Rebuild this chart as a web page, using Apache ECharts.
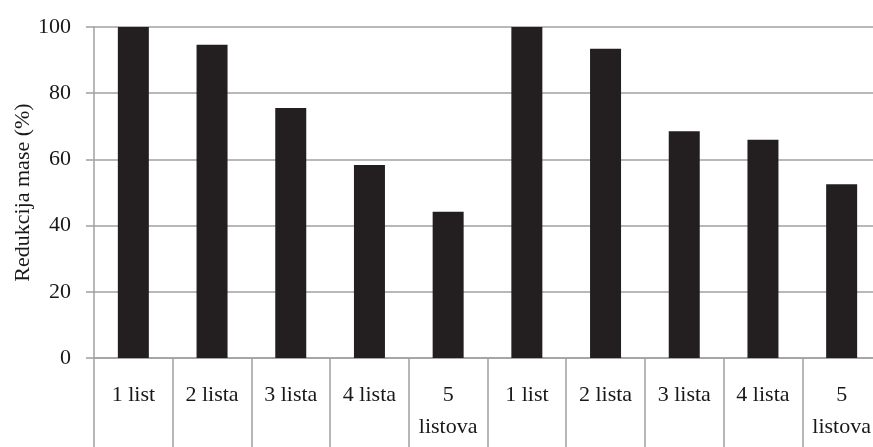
<!DOCTYPE html>
<html>
<head>
<meta charset="utf-8">
<script src="https://cdn.jsdelivr.net/npm/echarts@6/dist/echarts.min.js"></script>
<style>
html,body{margin:0;padding:0;background:#fff;}
#chart{width:873px;height:447px;}
</style>
</head>
<body>
<div id="chart"></div>
<script>
var categories = ['1 list', '2 lista', '3 lista', '4 lista', '5\nlistova', '1 list', '2 lista', '3 lista', '4 lista', '5\nlistova'];
var values = [100, 94.6, 75.5, 58.3, 44.2, 100, 93.4, 68.5, 65.9, 52.5];
var yTicks = [0, 20, 40, 60, 80, 100];
var yAxisTitle = 'Redukcija mase (%)';

var font = '"Liberation Serif", "Times New Roman", serif';
var chart = echarts.init(document.getElementById('chart'));
chart.setOption({
  animation: false,
  backgroundColor: '#fff',
  grid: { left: 94, right: -8, top: 27, bottom: 89, containLabel: false, outerBoundsMode: 'none' },
  xAxis: {
    type: 'category',
    data: categories,
    axisLine: { show: true, lineStyle: { color: '#a0a0a0', width: 1.5 } },
    axisTick: { show: true, length: 95, alignWithLabel: false, lineStyle: { color: '#a0a0a0', width: 1.5 } },
    axisLabel: { color: '#1a1718', fontFamily: font, fontSize: 22, margin: 21, lineHeight: 32, interval: 0 },
    splitLine: { show: false }
  },
  yAxis: {
    type: 'value',
    min: yTicks[0],
    max: yTicks[yTicks.length - 1],
    interval: 20,
    name: yAxisTitle,
    nameLocation: 'middle',
    nameGap: 60,
    nameMoveOverlap: false,
    nameTextStyle: { color: '#1a1718', fontFamily: font, fontSize: 22 },
    axisLine: { show: true, lineStyle: { color: '#a0a0a0', width: 1.5 } },
    axisTick: { show: true, length: 8, lineStyle: { color: '#a0a0a0', width: 1.5 } },
    axisLabel: { color: '#1a1718', fontFamily: font, fontSize: 22, margin: 23 },
    splitLine: { show: true, lineStyle: { color: '#a0a0a0', width: 1.5 } }
  },
  series: [{
    type: 'bar',
    data: values,
    barWidth: 31,
    itemStyle: { color: '#231f20' }
  }]
});
</script>
</body>
</html>
